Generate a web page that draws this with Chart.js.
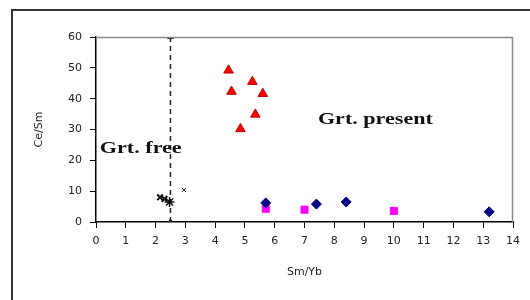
<!DOCTYPE html>
<html lang="en">
<head>
<meta charset="UTF-8">
<title>Ce/Sm vs Sm/Yb</title>
<script src="https://cdn.jsdelivr.net/npm/chart.js"></script>
<style>
    html, body { margin: 0; padding: 0; background: #fff; }
    .frame {
        position: absolute; left: 11px; top: 9px;
        width: 600px; height: 400px;
        border: 2px solid #333;
    }
    #plot { position: absolute; left: 0; top: 0; }
</style>
</head>
<body>
<div class="frame"></div>
<canvas id="plot" width="530" height="300"></canvas>

<script>
    // garnet-present samples (red triangles)
    const triX = [4.45, 4.55, 5.25, 5.6, 5.35, 4.85];
    const triY = [49.2, 42.3, 45.5, 41.6, 34.9, 30.2];

    // garnet-free samples (black crosses)
    const crossX = [2.15, 2.3, 2.95];
    const crossY = [8.0, 7.5, 10.4];
    const starX = [2.47];
    const starY = [6.5];

    // navy diamonds
    const diaX = [5.7, 7.4, 8.4, 13.2];
    const diaY = [6.2, 5.8, 6.5, 3.3];

    // magenta squares
    const sqX = [5.7, 7.0, 10.0];
    const sqY = [4.3, 4.0, 3.6];

    // boundary line Sm/Yb = 2.5
    const lineX = [2.5, 2.5];
    const lineY = [0, 60];

    const xTicks = [0, 1, 2, 3, 4, 5, 6, 7, 8, 9, 10, 11, 12, 13, 14];
    const yTicks = [0, 10, 20, 30, 40, 50, 60];

    const toPts = (xs, ys) => xs.map((x, i) => ({ x: x, y: ys[i] }));

    // text labels inside the plot, placed in data units
    const fieldLabels = [
        { text: "Grt. free", x: 0.13, y: 23.8 },
        { text: "Grt. present", x: 7.45, y: 33.2 }
    ];

    const extras = {
        id: "extras",
        afterDraw(chart) {
            const ctx = chart.ctx;
            const a = chart.chartArea;
            ctx.save();
            // top and right border of the plot box
            ctx.strokeStyle = "#8a8a8a";
            ctx.lineWidth = 1.5;
            ctx.beginPath();
            ctx.moveTo(a.left, a.top + 0.5);
            ctx.lineTo(a.right - 0.5, a.top + 0.5);
            ctx.lineTo(a.right - 0.5, a.bottom);
            ctx.stroke();

            // Grt. labels, wide bold serif
            ctx.fillStyle = "#111";
            ctx.font = "bold 17px 'Liberation Serif', serif";
            ctx.textBaseline = "middle";
            fieldLabels.forEach(l => {
                const px = chart.scales.x.getPixelForValue(l.x);
                const py = chart.scales.y.getPixelForValue(l.y);
                ctx.save();
                ctx.translate(px, py);
                ctx.scale(1.3, 1);
                ctx.fillText(l.text, 0, 0);
                ctx.restore();
            });
            ctx.restore();
        }
    };

    const tickFont = { family: "'DejaVu Sans', sans-serif", size: 11 };

    new Chart(document.getElementById("plot"), {
        type: "scatter",
        data: {
            datasets: [
                { label: "Grt. present", data: toPts(triX, triY), pointStyle: "triangle", pointRadius: 5.5, backgroundColor: "#ff0000", borderColor: "#c00000", borderWidth: 1 },
                { label: "cross", data: toPts(crossX, crossY), pointStyle: "crossRot", pointRadius: [4, 4, 3], borderColor: "#111", borderWidth: [2, 2, 1] },
                { label: "star", data: toPts(starX, starY), pointStyle: "star", pointRadius: 5, borderColor: "#111", borderWidth: 1.5 },
                { label: "diamond", data: toPts(diaX, diaY), pointStyle: "rectRot", pointRadius: 5, backgroundColor: "#000080", borderColor: "#000080", borderWidth: 1 },
                { label: "square", data: toPts(sqX, sqY), pointStyle: "rect", pointRadius: 5, backgroundColor: "#ff00ff", borderColor: "#ff00ff", borderWidth: 1 },
                { type: "line", label: "limit", data: toPts(lineX, lineY), borderColor: "#222", borderWidth: 1.5, borderDash: [5, 4], pointStyle: "triangle", pointRadius: 2.5, backgroundColor: "#222", pointBorderColor: "#222", showLine: true, fill: false }
            ]
        },
        options: {
            responsive: false,
            animation: false,
            layout: { padding: { top: 37, right: 17, left: 0, bottom: 0 } },
            plugins: {
                legend: { display: false },
                tooltip: { enabled: false }
            },
            scales: {
                x: {
                    type: "linear",
                    min: 0, max: 14,
                    afterFit: s => { s.height = 78; },
                    afterBuildTicks: s => { s.ticks = xTicks.map(v => ({ value: v })); },
                    grid: { drawOnChartArea: false, color: "#000", tickLength: 6 },
                    border: { color: "#000", width: 1.5 },
                    ticks: { color: "#222", font: tickFont, padding: 7, maxRotation: 0 },
                    title: { display: true, text: "Sm/Yb", color: "#222", font: tickFont, padding: { top: 21, bottom: 21 } }
                },
                y: {
                    type: "linear",
                    min: 0, max: 60,
                    afterFit: s => { s.width = 96; },
                    afterBuildTicks: s => { s.ticks = yTicks.map(v => ({ value: v })); },
                    grid: { drawOnChartArea: false, color: "#000", tickLength: 6 },
                    border: { color: "#000", width: 1.5 },
                    ticks: { color: "#222", font: tickFont, padding: 8 },
                    title: { display: true, text: "Ce/Sm", color: "#222", font: tickFont, padding: { top: 33, bottom: 0 } }
                }
            }
        },
        plugins: [extras]
    });
</script>
</body>
</html>
